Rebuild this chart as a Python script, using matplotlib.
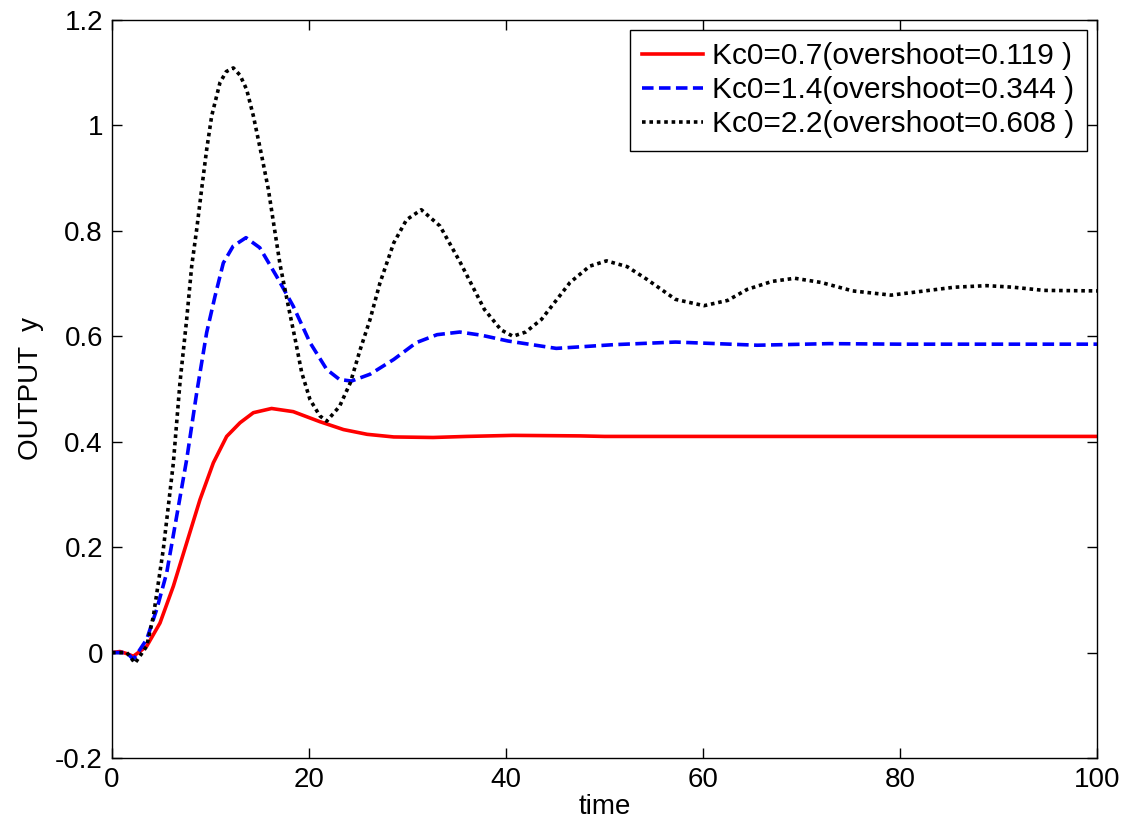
import numpy as np
import matplotlib
matplotlib.use('Agg')
import matplotlib.pyplot as plt

plt.rcParams['font.family'] = ['Liberation Sans', 'DejaVu Sans']

# values (time, output)
t_07 = [0, 0.8, 1.5, 2.17, 3.52, 4.87, 6.23, 7.58, 8.93, 10.29, 11.64, 13.0, 14.35, 16.2,
        18.4, 21.1, 23.5, 25.9, 28.6, 32.6, 36.0, 40.7, 47.5, 50, 60, 70, 80, 90, 100]
y_07 = [0, 0.002, -0.002, -0.007, 0.012, 0.056, 0.126, 0.208, 0.290, 0.360, 0.410, 0.436, 0.455, 0.463,
        0.457, 0.438, 0.423, 0.414, 0.409, 0.408, 0.410, 0.412, 0.411, 0.41, 0.41, 0.41, 0.41, 0.41, 0.41]

t_14 = [0, 1.5, 2.17, 3.52, 4.54, 5.55, 6.57, 7.58, 8.6, 9.61, 10.46, 11.3, 12.3, 13.6, 15.0,
        16.7, 18.4, 20.1, 21.8, 23.1, 24.3, 26.2, 28.6, 30.9, 33.0, 35.3, 37.5, 40.2, 45.1,
        50.9, 57.2, 65.5, 72.8, 80, 90, 100]
y_14 = [0, 0, -0.013, 0.025, 0.082, 0.151, 0.259, 0.366, 0.493, 0.607, 0.676, 0.739, 0.771, 0.787, 0.768,
        0.714, 0.657, 0.588, 0.537, 0.518, 0.515, 0.528, 0.556, 0.588, 0.603, 0.608, 0.602, 0.591, 0.577,
        0.584, 0.589, 0.583, 0.586, 0.585, 0.585, 0.585]

t_22 = [0, 1.5, 2.34, 3.52, 4.2, 5.21, 6.23, 6.9, 7.58, 8.09, 8.6, 9.1, 9.61, 10.12, 10.96, 11.6,
        12.32, 13.0, 13.67, 14.35, 15.2, 15.87, 16.4, 17.06, 17.9, 18.6, 19.26, 20.1, 21.1, 21.8,
        23.1, 24.2, 25.2, 26.2, 27.2, 28.6, 29.9, 31.4, 33.3, 35.3, 37.8, 39.5, 40.7, 42.0, 43.6,
        46.5, 48.5, 50.2, 52.3, 54.3, 57.2, 60.1, 62.5, 64.5, 67.0, 69.3, 72.0, 75.2, 79.1, 82.5,
        85.5, 88.8, 91.5, 94.6, 100]
y_22 = [0, 0, -0.020, 0.012, 0.069, 0.196, 0.360, 0.512, 0.632, 0.733, 0.803, 0.879, 0.954, 1.018, 1.081, 1.102,
        1.109, 1.095, 1.068, 1.018, 0.942, 0.879, 0.815, 0.736, 0.657, 0.594, 0.531, 0.480, 0.449, 0.439,
        0.467, 0.512, 0.575, 0.632, 0.701, 0.777, 0.821, 0.840, 0.809, 0.742, 0.651, 0.612, 0.600, 0.608, 0.632,
        0.702, 0.733, 0.743, 0.732, 0.708, 0.670, 0.658, 0.668, 0.689, 0.704, 0.710, 0.702, 0.686, 0.678, 0.686,
        0.693, 0.696, 0.693, 0.687, 0.686]

labels = ['Kc0=0.7(overshoot=0.119 )',
          'Kc0=1.4(overshoot=0.344 )',
          'Kc0=2.2(overshoot=0.608 )']

fig = plt.figure(figsize=(11.29, 8.34), dpi=100)
ax = fig.add_axes([0.0992, 0.0911, 0.8725, 0.885])

ax.plot(t_07, y_07, color='#ff0000', linewidth=2.6, label=labels[0])
ax.plot(t_14, y_14, color='#0000ff', linewidth=2.6, linestyle=(0, (3.2, 1.5)), label=labels[1])
ax.plot(t_22, y_22, color='black', linewidth=2.6, linestyle=(0, (1, 1.05)), label=labels[2])

ax.set_xlim(0, 100)
ax.set_ylim(-0.2, 1.2)
ax.set_xticks(range(0, 101, 20))
ax.set_yticks([-0.2, 0, 0.2, 0.4, 0.6, 0.8, 1, 1.2])
ax.set_yticklabels(['-0.2', '0', '0.2', '0.4', '0.6', '0.8', '1', '1.2'])
ax.tick_params(direction='in', top=True, right=True, length=7, width=1, labelsize=20, pad=6.5)
for s in ax.spines.values():
    s.set_linewidth(1)

ax.set_xlabel('time', fontsize=20, labelpad=1)
ax.set_ylabel('OUTPUT  y', fontsize=20, labelpad=8)

leg = ax.legend(loc='upper right', fontsize=21.5, frameon=True, fancybox=False,
                edgecolor='black', framealpha=1, borderaxespad=0.33,
                handlelength=2.05, handletextpad=0.3, labelspacing=0.2, borderpad=0.42)
leg.get_frame().set_linewidth(1)

fig.savefig('out.png', dpi=100)
